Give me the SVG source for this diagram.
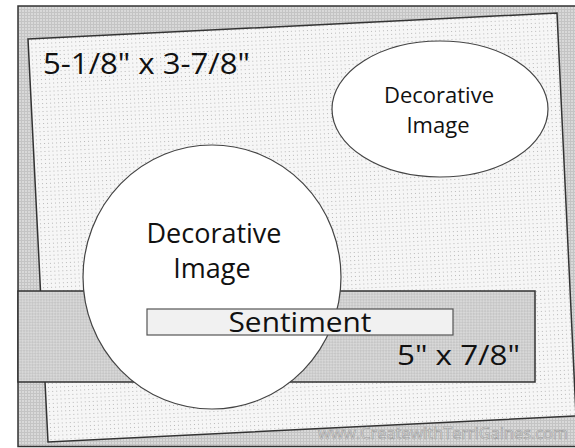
<svg xmlns="http://www.w3.org/2000/svg" width="575" height="448" viewBox="0 0 575 448">
  <defs>
    <pattern id="pOuter" width="3" height="3" patternUnits="userSpaceOnUse">
      <rect width="3" height="3" fill="#d9d9d9"/>
      <rect width="3" height="1" fill="#c4c4c4"/>
      <rect width="1" height="3" fill="#c4c4c4"/>
    </pattern>
    <pattern id="pCard" width="4" height="4" patternUnits="userSpaceOnUse" patternTransform="rotate(-2.8)">
      <rect width="4" height="4" fill="#f6f6f6"/>
      <rect x="1" y="1" width="1" height="1" fill="#b8b8b8"/>
    </pattern>
    <pattern id="pStrip" width="4" height="4" patternUnits="userSpaceOnUse" patternTransform="rotate(45)">
      <rect width="4" height="4" fill="#c6c6c6"/>
      <rect width="2" height="2" fill="#d8d8d8"/>
      <rect x="2" y="2" width="2" height="2" fill="#d8d8d8"/>
    </pattern>
  </defs>
  <style>
    .lbl { font-family: "Open Sans", "Lato", "Liberation Sans", sans-serif; fill: #111; }
    .line { stroke: #333; stroke-width: 1.5; }
    .img { fill: #ffffff; stroke: #444; stroke-width: 1.2; }
  </style>

  <rect width="575" height="448" fill="#ffffff"/>

  <g id="background-card">
    <rect x="18" y="6" width="570" height="440.5" fill="url(#pOuter)" class="line"/>
  </g>

  <g id="layer-card">
    <polygon points="28,39 557,13 576,416 48,442" fill="url(#pCard)" class="line"/>
    <text class="lbl" x="43" y="74" font-size="30" textLength="207" lengthAdjust="spacingAndGlyphs">5-1/8" x 3-7/8"</text>
  </g>

  <g id="small-image">
    <ellipse cx="440" cy="109" rx="108" ry="68" class="img"/>
    <text class="lbl" x="439" y="103" font-size="22" text-anchor="middle">Decorative</text>
    <text class="lbl" x="438" y="133" font-size="22" text-anchor="middle">Image</text>
  </g>

  <g id="strip">
    <rect x="18" y="291" width="517" height="91" fill="url(#pStrip)" class="line"/>
    <text class="lbl" x="397" y="365" font-size="28" textLength="123" lengthAdjust="spacingAndGlyphs">5" x 7/8"</text>
  </g>

  <g id="big-image">
    <ellipse cx="212" cy="277" rx="129" ry="132" class="img"/>
    <text class="lbl" x="214" y="243" font-size="27" text-anchor="middle">Decorative</text>
    <text class="lbl" x="212" y="278" font-size="27" text-anchor="middle">Image</text>
  </g>

  <g id="sentiment">
    <rect x="147" y="309" width="306" height="26" fill="#f1f1f1" stroke="#555" stroke-width="1.2"/>
    <text class="lbl" x="300" y="332" font-size="28" text-anchor="middle" textLength="143" lengthAdjust="spacingAndGlyphs">Sentiment</text>
  </g>

  <g id="watermark">
    <text x="318" y="439" font-family="Open Sans, Lato, Liberation Sans, sans-serif" font-size="16" fill="#e8e8e8" stroke="#999999" stroke-width="0.6" textLength="250" lengthAdjust="spacingAndGlyphs">www.CreatewithTerriGaines.com</text>
  </g>
</svg>
